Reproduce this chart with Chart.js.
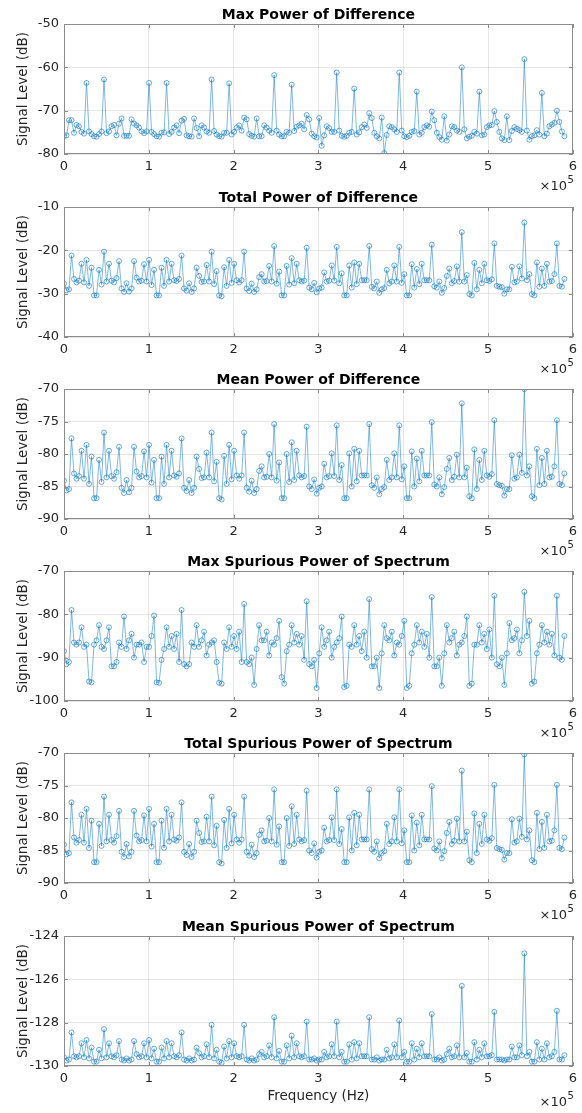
<!DOCTYPE html>
<html>
<head>
<meta charset="utf-8">
<script src="https://cdn.jsdelivr.net/npm/chart.js@4.4.1/dist/chart.umd.min.js"></script>
<style>
  body { margin: 0; background: #fff; }
  #figure { position: relative; width: 582px; height: 1113px; overflow: hidden; }
  #figure canvas { position: absolute; left: 0; }
</style>
</head>
<body>
<div id="figure"></div>
<script>
// sample spacing along the frequency axis (Hz)
const FREQ_STEP_HZ = 2950;
const X_TICK_SCALE = 1e5;   // axis shows ×10^5

const panelTitles = [
  'Max Power of Difference',
  'Total Power of Difference',
  'Mean Power of Difference',
  'Max Spurious Power of Spectrum',
  'Total Spurious Power of Spectrum',
  'Mean Spurious Power of Spectrum'
];

// [min, max, step] for each y axis (dB)
const yRanges = [
  [-80, -50, 10],
  [-40, -10, 10],
  [-90, -70, 5],
  [-100, -70, 10],
  [-90, -70, 5],
  [-130, -124, 2]
];

const maxPowerDiff = [
  -75.9,-75.7,-72.2,-72.2,-75.1,-73.3,-73.6,-74.9,-75.3,-63.6,
  -74.8,-75.4,-75.9,-76.0,-75.4,-74.8,-62.8,-75.2,-74.8,-73.6,
  -73.3,-75.7,-73.0,-71.8,-75.8,-75.8,-75.8,-72.0,-73.0,-73.4,
  -73.9,-74.8,-75.2,-74.8,-63.6,-74.9,-75.4,-75.9,-76.0,-75.1,
  -75.0,-63.6,-75.4,-74.9,-73.9,-73.4,-75.2,-72.3,-71.9,-75.7,
  -75.9,-76.0,-71.8,-74.0,-75.9,-73.4,-73.9,-74.8,-75.1,-62.8,
  -74.7,-75.5,-75.9,-76.0,-75.1,-75.1,-63.7,-75.5,-74.9,-73.9,
  -73.4,-74.6,-71.6,-72.0,-75.4,-75.8,-76.0,-71.8,-75.9,-75.9,
  -73.4,-73.9,-74.6,-75.1,-61.8,-74.6,-75.5,-75.9,-75.9,-74.9,
  -75.1,-64.0,-74.7,-73.7,-73.4,-73.0,-74.3,-71.0,-72.0,-75.3,
  -75.9,-76.2,-71.7,-78.1,-75.7,-73.6,-74.0,-74.9,-74.9,-61.2,
  -74.6,-75.8,-76.0,-75.8,-75.1,-74.9,-64.9,-75.5,-75.0,-73.8,
  -73.2,-74.0,-70.6,-71.7,-75.1,-75.9,-76.4,-71.6,-79.8,-75.6,
  -73.6,-73.8,-74.3,-74.9,-61.2,-74.6,-75.9,-76.1,-75.8,-74.9,
  -74.7,-65.6,-75.5,-75.1,-73.8,-73.4,-73.7,-70.2,-72.2,-75.1,
  -76.1,-76.7,-71.3,-76.9,-75.5,-73.6,-73.8,-74.6,-74.9,-60.0,
  -74.3,-76.4,-76.0,-75.8,-74.9,-75.3,-65.6,-75.7,-75.5,-73.8,
  -73.4,-73.3,-70.1,-72.6,-74.9,-76.4,-76.8,-71.3,-76.8,-74.7,
  -73.8,-74.2,-74.5,-74.9,-58.1,-74.6,-76.7,-75.9,-75.7,-74.5,
  -75.5,-65.9,-75.9,-75.3,-73.6,-73.2,-72.8,-70.0,-72.6,-74.8,
  -75.9
];

const totalPowerDiff = [
  -27.7,-29.2,-29.0,-21.2,-26.6,-27.4,-27.0,-23.1,-27.4,-22.2,
  -28.2,-24.0,-30.4,-30.4,-24.5,-27.9,-20.3,-27.2,-23.1,-27.0,
  -27.4,-26.4,-22.5,-28.8,-29.6,-27.6,-29.5,-28.8,-22.5,-26.3,
  -27.2,-27.0,-23.2,-27.2,-22.2,-28.0,-24.5,-30.4,-30.4,-24.0,
  -28.2,-22.2,-27.2,-23.1,-26.9,-27.1,-26.6,-21.2,-28.8,-29.3,
  -27.6,-29.6,-28.8,-24.0,-25.9,-27.3,-27.2,-23.4,-27.2,-20.3,
  -27.8,-24.8,-30.4,-30.6,-23.9,-28.2,-22.2,-27.5,-23.1,-26.9,
  -27.4,-26.9,-20.3,-28.8,-29.4,-27.7,-29.6,-29.0,-26.2,-25.5,
  -27.2,-27.1,-23.6,-27.2,-19.0,-27.7,-24.9,-30.4,-30.4,-23.6,
  -27.9,-21.8,-27.6,-23.1,-26.9,-27.2,-27.0,-19.4,-28.6,-29.0,
  -27.5,-29.7,-28.8,-28.6,-25.1,-27.2,-27.0,-23.5,-27.0,-19.2,
  -27.6,-25.3,-30.4,-30.4,-23.5,-28.6,-22.8,-27.8,-23.1,-26.9,
  -26.9,-26.9,-19.0,-28.4,-28.8,-27.2,-29.8,-29.0,-28.7,-24.5,
  -27.6,-27.2,-23.5,-27.2,-19.2,-27.5,-25.5,-30.4,-30.4,-23.2,
  -28.6,-24.3,-27.8,-23.1,-26.9,-26.9,-26.9,-18.7,-28.3,-28.6,
  -27.2,-29.8,-28.7,-25.9,-24.2,-27.6,-27.1,-23.7,-27.2,-15.8,
  -27.2,-25.7,-30.1,-30.4,-22.9,-29.0,-24.5,-27.6,-23.1,-26.9,
  -27.1,-26.7,-18.4,-28.2,-28.4,-28.5,-30.0,-29.0,-29.0,-23.8,
  -27.4,-27.2,-23.7,-26.5,-13.6,-26.9,-25.5,-30.1,-30.4,-22.8,
  -28.4,-24.2,-28.2,-23.1,-27.2,-27.1,-25.5,-18.4,-28.2,-28.4,
  -26.6
];

const meanPowerDiff = [
  -84.1,-85.6,-85.4,-77.6,-83.0,-83.8,-83.4,-79.5,-83.8,-78.6,
  -84.6,-80.4,-86.8,-86.8,-80.9,-84.3,-76.7,-83.6,-79.5,-83.4,
  -83.8,-82.8,-78.9,-85.2,-86.0,-84.0,-85.9,-85.2,-78.9,-82.7,
  -83.6,-83.4,-79.6,-83.6,-78.6,-84.4,-80.9,-86.8,-86.8,-80.4,
  -84.6,-78.6,-83.6,-79.5,-83.3,-83.5,-83.0,-77.6,-85.2,-85.7,
  -84.0,-86.0,-85.2,-80.4,-82.3,-83.7,-83.6,-79.8,-83.6,-76.7,
  -84.2,-81.2,-86.8,-87.0,-80.3,-84.6,-78.6,-83.9,-79.5,-83.3,
  -83.8,-83.3,-76.7,-85.2,-85.8,-84.1,-86.0,-85.4,-82.6,-81.9,
  -83.6,-83.5,-80.0,-83.6,-75.4,-84.1,-81.3,-86.8,-86.8,-80.0,
  -84.3,-78.2,-84.0,-79.5,-83.3,-83.6,-83.4,-75.8,-85.0,-85.4,
  -83.9,-86.1,-85.2,-85.0,-81.5,-83.6,-83.4,-79.9,-83.4,-75.6,
  -84.0,-81.7,-86.8,-86.8,-79.9,-85.0,-79.2,-84.2,-79.5,-83.3,
  -83.3,-83.3,-75.4,-84.8,-85.2,-83.6,-86.2,-85.4,-85.1,-80.9,
  -84.0,-83.6,-79.9,-83.6,-75.6,-83.9,-81.9,-86.8,-86.8,-79.6,
  -85.0,-80.7,-84.2,-79.5,-83.3,-83.3,-83.3,-75.1,-84.7,-85.0,
  -83.6,-86.2,-85.1,-82.3,-80.6,-84.0,-83.5,-80.1,-83.6,-72.2,
  -83.6,-82.1,-86.5,-86.8,-79.3,-85.4,-80.9,-84.0,-79.5,-83.3,
  -83.5,-83.1,-74.8,-84.6,-84.8,-84.9,-86.4,-85.4,-85.4,-80.2,
  -83.8,-83.6,-80.1,-82.9,-70.0,-83.3,-81.9,-86.5,-86.8,-79.2,
  -84.8,-80.6,-84.6,-79.5,-83.6,-83.5,-81.9,-74.8,-84.6,-84.8,
  -83.0
];

const maxSpurPower = [
  -88.5,-91.5,-91.0,-79.0,-86.5,-87.0,-86.5,-83.0,-87.5,-87.0,
  -95.5,-95.7,-87.0,-86.0,-82.5,-87.5,-88.0,-86.0,-83.0,-92.0,
  -92.0,-91.0,-86.5,-87.5,-80.5,-88.0,-86.0,-84.5,-90.0,-87.0,
  -87.0,-86.5,-91.0,-87.5,-87.5,-85.0,-80.3,-95.7,-95.8,-90.5,
  -88.0,-83.0,-87.5,-85.0,-88.0,-84.5,-91.0,-79.0,-91.5,-92.0,
  -91.5,-86.5,-87.5,-82.5,-87.5,-86.0,-84.0,-89.5,-87.0,-86.5,
  -86.0,-91.0,-95.8,-96.0,-86.5,-88.0,-83.0,-87.5,-85.0,-88.0,
  -84.0,-91.0,-77.6,-91.0,-91.5,-90.0,-96.3,-88.0,-82.5,-86.0,
  -86.0,-84.0,-89.5,-86.5,-87.0,-85.5,-81.5,-94.5,-96.0,-88.5,
  -87.0,-82.5,-86.5,-84.5,-87.0,-85.0,-90.5,-77.0,-91.5,-92.0,
  -90.5,-97.0,-89.0,-83.0,-87.5,-86.0,-84.0,-90.0,-87.5,-86.5,
  -85.5,-80.5,-96.8,-96.5,-87.0,-87.5,-82.5,-87.0,-85.0,-88.5,
  -84.0,-90.0,-76.5,-92.0,-92.0,-90.0,-97.0,-89.0,-82.5,-85.5,
  -86.0,-84.0,-89.5,-86.5,-87.0,-85.0,-81.5,-97.0,-96.5,-89.0,
  -87.0,-82.5,-86.5,-84.0,-87.5,-84.5,-90.0,-76.0,-92.0,-92.0,
  -90.0,-96.5,-89.0,-82.5,-86.5,-85.5,-84.0,-89.5,-87.0,-86.5,
  -85.0,-80.5,-96.5,-96.0,-87.0,-87.0,-82.5,-86.5,-84.5,-88.0,
  -83.5,-90.0,-75.7,-91.5,-92.0,-90.0,-96.3,-89.0,-82.0,-86.0,
  -85.5,-83.5,-89.0,-86.0,-74.8,-85.0,-81.5,-96.0,-95.5,-89.0,
  -87.0,-82.5,-86.5,-84.0,-87.0,-84.5,-89.5,-75.7,-90.0,-90.5,
  -85.0
];

const totalSpurPower = [
  -84.1,-85.6,-85.4,-77.6,-83.0,-83.8,-83.4,-79.5,-83.8,-78.6,
  -84.6,-80.4,-86.8,-86.8,-80.9,-84.3,-76.7,-83.6,-79.5,-83.4,
  -83.8,-82.8,-78.9,-85.2,-86.0,-84.0,-85.9,-85.2,-78.9,-82.7,
  -83.6,-83.4,-79.6,-83.6,-78.6,-84.4,-80.9,-86.8,-86.8,-80.4,
  -84.6,-78.6,-83.6,-79.5,-83.3,-83.5,-83.0,-77.6,-85.2,-85.7,
  -84.0,-86.0,-85.2,-80.4,-82.3,-83.7,-83.6,-79.8,-83.6,-76.7,
  -84.2,-81.2,-86.8,-87.0,-80.3,-84.6,-78.6,-83.9,-79.5,-83.3,
  -83.8,-83.3,-76.7,-85.2,-85.8,-84.1,-86.0,-85.4,-82.6,-81.9,
  -83.6,-83.5,-80.0,-83.6,-75.6,-84.1,-81.3,-86.8,-86.8,-80.0,
  -84.3,-78.2,-84.0,-79.5,-83.3,-83.6,-83.4,-75.8,-85.0,-85.4,
  -83.9,-86.1,-85.2,-85.0,-81.5,-83.6,-83.4,-79.9,-83.4,-75.6,
  -84.0,-81.7,-86.8,-86.8,-79.9,-85.0,-79.2,-84.2,-79.5,-83.3,
  -83.3,-83.3,-75.6,-84.8,-85.2,-83.6,-86.2,-85.4,-85.1,-80.9,
  -84.0,-83.6,-79.9,-83.6,-75.6,-83.9,-81.9,-86.8,-86.8,-79.6,
  -85.0,-80.7,-84.2,-79.5,-83.3,-83.3,-83.3,-75.1,-84.7,-85.0,
  -83.6,-86.2,-85.1,-82.3,-80.6,-84.0,-83.5,-80.1,-83.6,-72.7,
  -83.6,-82.1,-86.5,-86.8,-79.3,-85.4,-80.9,-84.0,-79.5,-83.3,
  -83.5,-83.1,-74.9,-84.6,-84.8,-84.9,-86.4,-85.4,-85.4,-80.2,
  -83.8,-83.6,-80.1,-82.9,-70.2,-83.3,-81.9,-86.5,-86.8,-79.2,
  -84.8,-80.6,-84.6,-79.5,-83.6,-83.5,-81.9,-74.9,-84.6,-84.8,
  -83.0
];

const meanSpurPower = [
  -129.6,-129.75,-129.7,-128.45,-129.55,-129.6,-129.55,-128.95,-129.6,-128.8,
  -129.65,-129.15,-129.8,-129.8,-129.25,-129.65,-128.3,-129.6,-128.95,-129.55,
  -129.6,-129.5,-128.85,-129.7,-129.75,-129.65,-129.75,-129.7,-128.85,-129.45,
  -129.6,-129.55,-128.95,-129.6,-128.8,-129.65,-129.2,-129.8,-129.8,-129.15,
  -129.65,-128.85,-129.6,-128.95,-129.55,-129.6,-129.5,-128.45,-129.7,-129.75,
  -129.65,-129.75,-129.7,-129.15,-129.4,-129.6,-129.55,-129.0,-129.6,-128.1,
  -129.65,-129.25,-129.8,-129.85,-129.1,-129.65,-128.85,-129.6,-128.95,-129.55,
  -129.6,-129.55,-128.1,-129.7,-129.75,-129.65,-129.75,-129.7,-129.45,-129.35,
  -129.6,-129.55,-129.05,-129.6,-127.75,-129.65,-129.3,-129.8,-129.8,-129.05,
  -129.65,-128.6,-129.6,-128.95,-129.55,-129.6,-129.55,-127.95,-129.7,-129.7,
  -129.65,-129.75,-129.7,-129.7,-129.35,-129.6,-129.55,-129.0,-129.55,-127.95,
  -129.6,-129.35,-129.8,-129.8,-129.0,-129.7,-128.9,-129.65,-128.95,-129.55,
  -129.55,-129.55,-127.75,-129.7,-129.7,-129.6,-129.75,-129.7,-129.7,-129.25,
  -129.65,-129.6,-129.0,-129.6,-127.9,-129.6,-129.35,-129.8,-129.8,-128.95,
  -129.7,-129.2,-129.6,-128.95,-129.55,-129.55,-129.55,-127.6,-129.7,-129.7,
  -129.6,-129.75,-129.7,-129.45,-129.2,-129.6,-129.55,-129.05,-129.6,-126.3,
  -129.6,-129.4,-129.8,-129.8,-128.9,-129.7,-129.25,-129.6,-128.95,-129.55,
  -129.55,-129.5,-127.5,-129.7,-129.7,-129.7,-129.75,-129.7,-129.7,-129.1,
  -129.6,-129.6,-129.05,-129.5,-124.8,-129.55,-129.35,-129.8,-129.8,-128.9,
  -129.7,-129.2,-129.7,-128.95,-129.6,-129.55,-129.35,-127.45,-129.7,-129.7,
  -129.5
];

const panelSeries = [maxPowerDiff, totalPowerDiff, meanPowerDiff, maxSpurPower, totalSpurPower, meanSpurPower];

// layout (px)
const FIG_W = 582;
const PANEL_TOPS = [0, 183, 365, 547, 729, 912];
const PLOT_TOP = 24, PLOT_H = 130, PLOT_LEFT = 64, PLOT_RIGHT_PAD = 8;

const AXIS_COLOR = '#262626';
const LINE_COLOR = '#0072BD';

Chart.defaults.font.family = '"DejaVu Sans", sans-serif';
Chart.defaults.font.size = 13;
Chart.defaults.color = AXIS_COLOR;

// box round the axes plus small inward ticks, like a matlab axes
const axesBox = {
  id: 'axesBox',
  afterDatasetsDraw(chart) {
    const { ctx, chartArea: a, scales: { x, y } } = chart;
    ctx.save();
    ctx.strokeStyle = '#8c8c8c';
    ctx.lineWidth = 1;
    ctx.strokeRect(Math.round(a.left) + 0.5, Math.round(a.top) + 0.5,
      Math.round(a.right - a.left) - 1, Math.round(a.bottom - a.top) - 1);
    ctx.beginPath();
    x.ticks.forEach(t => {
      const px = Math.round(x.getPixelForValue(t.value)) + 0.5;
      ctx.moveTo(px, a.bottom); ctx.lineTo(px, a.bottom - 4);
      ctx.moveTo(px, a.top); ctx.lineTo(px, a.top + 4);
    });
    y.ticks.forEach(t => {
      const py = Math.round(y.getPixelForValue(t.value)) + 0.5;
      ctx.moveTo(a.left, py); ctx.lineTo(a.left + 4, py);
      ctx.moveTo(a.right, py); ctx.lineTo(a.right - 4, py);
    });
    ctx.stroke();
    ctx.restore();
  }
};

// title centred over the axes (not the whole canvas) and the "×10^5" exponent
const axesText = {
  id: 'axesText',
  afterDraw(chart, args, opts) {
    const { ctx, chartArea: a } = chart;
    ctx.save();
    ctx.fillStyle = '#000';
    ctx.textBaseline = 'middle';
    ctx.textAlign = 'center';
    ctx.font = 'bold 14px "DejaVu Sans"';
    ctx.fillText(opts.title, (a.left + a.right) / 2, a.top - 9);

    const yMid = a.bottom + opts.expOffset;
    ctx.fillStyle = AXIS_COLOR;
    ctx.font = '13px "DejaVu Sans"';
    ctx.textAlign = 'right';
    ctx.fillText('×10', 567, yMid);
    ctx.font = '10px "DejaVu Sans"';
    ctx.textAlign = 'left';
    ctx.fillText('5', 567.5, yMid - 7);
    ctx.restore();
  }
};

const fig = document.getElementById('figure');

panelSeries.forEach((values, p) => {
  const isLast = p === panelSeries.length - 1;
  const h = isLast ? 1113 - PANEL_TOPS[p] : 200;
  const cv = document.createElement('canvas');
  cv.width = FIG_W; cv.height = h;
  cv.style.width = FIG_W + 'px'; cv.style.height = h + 'px';
  cv.style.top = PANEL_TOPS[p] + 'px';
  fig.appendChild(cv);

  const [yMin, yMax, yStep] = yRanges[p];

  new Chart(cv, {
    type: 'line',
    data: {
      datasets: [{
        data: values.map((v, i) => ({ x: i * FREQ_STEP_HZ, y: v })),
        borderColor: LINE_COLOR,
        borderWidth: 0.5,
        pointRadius: 2.5,
        pointBorderWidth: 0.6,
        pointBorderColor: LINE_COLOR,
        pointBackgroundColor: 'rgba(255,255,255,0)',
        tension: 0
      }]
    },
    options: {
      responsive: false,
      animation: false,
      events: [],
      layout: { padding: { left: 0, right: PLOT_RIGHT_PAD, top: PLOT_TOP, bottom: 0 } },
      plugins: {
        legend: { display: false },
        tooltip: { enabled: false },
        title: { display: false },
        axesText: { title: panelTitles[p], expOffset: isLast ? 37 : 33 }
      },
      scales: {
        x: {
          type: 'linear',
          min: 0, max: 6e5,
          ticks: { stepSize: 1e5, padding: 5, maxRotation: 0, callback: v => v / X_TICK_SCALE },
          grid: { color: 'rgba(38,38,38,0.12)', drawTicks: false },
          border: { display: false },
          title: {
            display: isLast,
            text: 'Frequency (Hz)',
            font: { size: 13.5 },
            padding: { top: 0, bottom: 8 }
          },
          afterFit: s => { s.height = h - PLOT_TOP - PLOT_H; }
        },
        y: {
          min: yMin, max: yMax,
          ticks: { stepSize: yStep, padding: 5 },
          grid: { color: 'rgba(38,38,38,0.12)', drawTicks: false },
          border: { display: false },
          title: {
            display: true,
            text: 'Signal Level (dB)',
            font: { size: 13.5 },
            padding: { top: 15, bottom: 0 }
          },
          afterFit: s => { s.width = PLOT_LEFT; }
        }
      }
    },
    plugins: [axesBox, axesText]
  });
});
</script>
</body>
</html>
